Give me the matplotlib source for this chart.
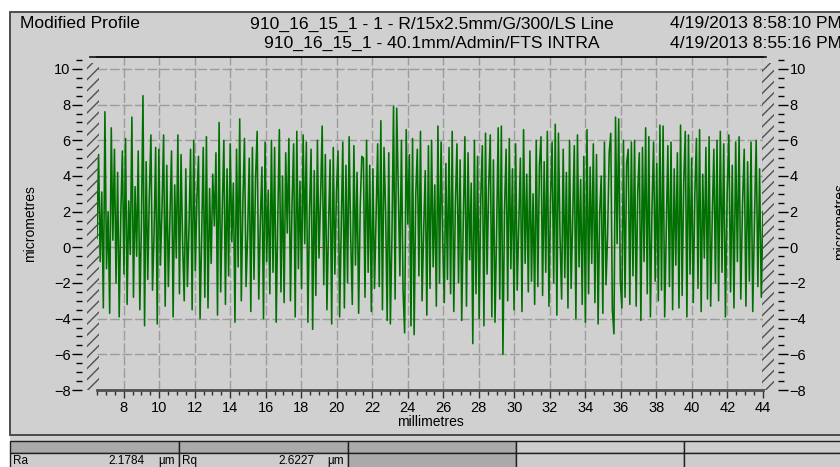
import numpy as np
import matplotlib
matplotlib.use("Agg")
import matplotlib.pyplot as plt
from matplotlib.patches import Rectangle
from matplotlib.lines import Line2D
from matplotlib.ticker import MultipleLocator

plt.rcParams['font.family'] = ['Liberation Sans', 'DejaVu Sans']
plt.rcParams['hatch.linewidth'] = 1.0

# profile heights (micrometres) in 5 mm pieces
seg_edges = [6.5, 11.5, 16.5, 21.5, 26.5, 31.5, 36.5, 41.5, 44.0]

seg_a = [0.5, 5.2, -0.8, 3.1, -3.4, 7.6, -1.2, 2.0, -3.7, 6.7, 0.4, 5.5, -2.0, 4.2,
         -3.9, 1.8, 5.4, -1.5, 6.1, -3.2, 2.6, -0.4, 7.3, -2.8, 3.4, -0.5, 5.4, -3.5,
         1.2, 8.5, -4.4, 4.8, -1.8, 2.9, 6.3, -2.4, 0.8, 5.6, -4.3, 5.5, -1.0, 2.2,
         6.3, -3.3, 4.6, -2.2, 1.5, 5.4, -3.9, 3.5, -0.6, 6.3, -2.6, 5.2, 0.2, -3.0]
seg_b = [4.4, -2.2, 1.0, 5.5, -3.5, 6.0, -1.3, 2.7, 5.1, -4.0, 0.6, 5.6, -2.8, 6.2,
         -3.4, 3.3, -0.9, 4.1, 1.2, 5.3, -3.8, 7.0, -2.5, 2.1, 6.0, -3.2, 4.4, -1.6,
         5.8, 0.3, 3.6, -4.2, 5.5, -1.1, 7.2, -3.0, 2.5, 6.1, -2.2, 0.7, 5.0, -3.6,
         5.6, -1.8, 3.9, 6.5, -2.9, 1.4, 4.5, -4.0, 5.9, -0.8, 3.2, -2.6, 6.0, -1.4]
seg_c = [5.6, -4.2, 1.6, 6.6, -2.5, 4.0, -3.1, 5.3, 0.8, 6.1, -3.0, 2.4, 5.8, -3.9,
         6.5, -1.2, 3.7, -2.3, 6.3, 0.2, 5.9, -4.2, 1.9, 5.5, -4.6, 4.3, -2.7, 6.0,
         -0.6, 2.8, 6.8, -2.1, 5.2, -3.5, 1.1, 4.9, -4.3, 5.6, -1.5, 3.1, 5.4, -3.9,
         0.9, 5.9, -3.4, 4.6, -2.0, 6.2, 0.5, -3.2, 5.7, -1.0, 4.2, -3.7, 2.3, 5.1]
seg_d = [5.0, -2.8, 6.0, -1.4, 4.6, -3.6, 4.4, -2.3, 1.8, 5.8, -2.2, 7.1, -3.5, 5.6,
         2.0, -4.1, 5.3, -4.3, 0.6, 7.9, -2.9, 7.8, 3.3, -1.6, 6.0, -2.4, -4.8, 6.6,
         1.3, 5.2, -4.4, 6.1, -4.9, 2.9, 5.5, -1.6, 6.5, -3.0, 0.9, 4.3, -3.8, 5.7,
         -2.3, 6.0, -1.1, 3.5, -3.3, 6.8, -2.0, 5.9, 0.4, -3.1, 4.7, -1.8, 5.6, -2.6]
seg_e = [6.5, -3.6, 2.4, 5.8, -2.0, 4.9, -4.1, 1.5, 6.2, -3.3, 5.3, -0.7, 3.6, -5.4,
         6.0, -2.6, 5.1, -4.0, 2.7, 5.7, -4.4, 6.4, -1.5, 3.4, 6.3, -3.9, 4.9, -4.2,
         0.8, 6.7, -2.9, 6.8, -6.0, 2.1, 5.5, -3.0, 6.1, -1.2, 4.4, -3.5, 5.8, -2.4,
         1.2, 5.0, -3.6, 6.6, -0.9, 4.1, -2.5, 5.4, -1.9, 3.0, -3.2, 6.0, -2.2, 4.6]
seg_f = [6.2, -2.7, 4.8, -1.4, 6.5, -3.3, 2.6, 5.9, -2.0, 6.9, -3.8, 6.4, 0.6, -2.9,
         5.5, -1.7, 4.2, -3.4, 6.0, -2.3, 1.6, 5.7, -4.0, 6.3, -1.1, 3.8, -3.2, 5.1,
         -4.2, 6.6, -2.6, 4.5, -0.9, 5.8, -3.1, 5.2, -4.3, 1.9, 4.0, -3.7, 5.9, -2.1,
         0.7, 5.3, 6.4, -3.5, -4.85, 7.3, 0.2, 7.2, -1.8, -3.4, 6.0, -2.8, 4.7, 5.5]
seg_g = [-3.2, 5.9, -1.6, 6.0, -3.3, 3.1, 5.3, -4.1, 5.6, -0.8, 6.7, -2.6, 6.2, -3.9,
         2.2, 5.9, -1.9, 4.7, -3.0, 6.85, -2.4, 6.8, -3.9, 1.0, 5.7, -2.2, 5.9, -3.5,
         4.4, -1.0, 5.3, -3.4, 6.85, -2.7, 3.6, 6.5, -3.9, 6.3, -1.5, 5.0, -3.1, 2.9,
         6.1, -2.3, 6.6, -3.6, 4.1, -0.6, 5.6, -2.9, 6.2, -3.3, 1.7, 5.5, -2.0, 6.0]
seg_h = [-3.0, 6.5, -1.4, 5.8, -3.9, 3.0, 6.3, -2.5, 4.6, -3.4, 5.9, -0.8, 6.2, -2.9,
         2.4, 5.5, -3.3, 4.8, -1.9, 5.9, -3.6, 1.5, 6.0, -2.2, 4.4, -2.8, 2.0]

segments = [seg_a, seg_b, seg_c, seg_d, seg_e, seg_f, seg_g, seg_h]

title_left = "Modified Profile"
title_lines = ["910_16_15_1 - 1 - R/15x2.5mm/G/300/LS Line",
               "910_16_15_1 - 40.1mm/Admin/FTS INTRA"]
date_lines = ["4/19/2013 8:58:10 PM", "4/19/2013 8:55:16 PM"]
params = [("Ra", "2.1784", "\u00b5m"), ("Rq", "2.6227", "\u00b5m")]

W, H = 840, 467
BG = '#d0d0d0'


def fx(x):
    return x / W


def fy(y):
    return 1 - y / H


xs, ys = [], []
for i, seg in enumerate(segments):
    last = i == len(segments) - 1
    xs.append(np.linspace(seg_edges[i], seg_edges[i + 1], len(seg), endpoint=last))
    ys.append(np.array(seg))
x = np.concatenate(xs)
y = np.concatenate(ys)

fig = plt.figure(figsize=(8.4, 4.67), dpi=100, facecolor='white')

# grey area under the panel, then the panel itself
fig.add_artist(Rectangle((fx(10), 0), fx(835), fy(430), transform=fig.transFigure,
                         facecolor=BG, edgecolor='none', zorder=-6))
fig.add_artist(Rectangle((fx(10), fy(435)), fx(835), 423 / H, transform=fig.transFigure,
                         facecolor=BG, edgecolor='#404040', lw=1.3, zorder=-5))

ax = fig.add_axes([fx(97), fy(390), fx(763 - 97), (390 - 57) / H])
ax.set_facecolor(BG)
ax.axhline(0, color='#b03020', lw=0.8, zorder=1)
ax.plot(x, y, color='#007000', lw=1.15, zorder=2)

ax.set_xlim(6.5, 44)
ax.set_ylim(-8, 10.67)
ax.xaxis.set_minor_locator(MultipleLocator(0.5))
ax.yaxis.set_minor_locator(MultipleLocator(0.5))
ax.set_yticks(np.arange(-8, 11, 2))
ax.set_xticks(np.arange(8, 45, 2))
ax.grid(True, which='major', color='#9c9c9c', lw=1.0, linestyle=(0, (7, 2)))

for side in ['left', 'right']:
    ax.spines[side].set_position(('outward', 11))
    ax.spines[side].set_color('none')
ax.spines['top'].set_color('#111111')
ax.spines['top'].set_linewidth(1.2)
ax.spines['bottom'].set_color('#505050')
ax.spines['bottom'].set_linewidth(2.0)

ax.tick_params(axis='y', which='both', left=True, right=True, labelleft=True,
               labelright=True, direction='out', colors='black', labelsize=10.5, pad=1)
ax.tick_params(axis='y', which='major', length=7, width=1)
ax.tick_params(axis='y', which='minor', length=4, width=1)
ax.tick_params(axis='x', which='major', length=6, width=1, color='#303030',
               labelsize=10.5, pad=2)
ax.tick_params(axis='x', which='minor', length=3.5, width=1, color='#303030')
ax.set_xlabel("millimetres", fontsize=10, labelpad=0)
ax.set_ylabel("micrometres", fontsize=10, labelpad=12)

# hatched edge strips
for x0, x1 in [(87, 99), (762, 774)]:
    fig.add_artist(Rectangle((fx(x0), fy(390)), fx(x1 - x0), (390 - 63) / H,
                             transform=fig.transFigure, fill=False, hatch='///',
                             edgecolor='#505050', lw=0))

fig.add_artist(Line2D([fx(90), fx(766)], [fy(57), fy(57)], color='#111111', lw=1.2,
                      transform=fig.transFigure))

# header texts
fs = 12.6
fig.text(fx(20), fy(24), title_left, fontsize=fs, va='center', ha='left')
fig.text(fx(432), fy(24), title_lines[0], fontsize=fs, va='center', ha='center')
fig.text(fx(432), fy(43), title_lines[1], fontsize=fs, va='center', ha='center')
fig.text(fx(670), fy(24), date_lines[0], fontsize=fs, va='center', ha='left')
fig.text(fx(670), fy(43), date_lines[1], fontsize=fs, va='center', ha='left')
fig.text(fx(833), fy(222), "micrometres", fontsize=10, rotation=90,
         va='center', ha='left')

# parameter table
cells = [10, 179, 348, 516, 684, 845]
for i in range(5):
    for r, (top, bot) in enumerate([(441, 453), (453, 470)]):
        dark = (r == 0 and i < 3) or (r == 1 and i == 2)
        fig.add_artist(Rectangle((fx(cells[i]), fy(bot)), fx(cells[i + 1] - cells[i]),
                                 (bot - top) / H, transform=fig.transFigure,
                                 facecolor='#aaaaaa' if dark else '#cdcdcd',
                                 edgecolor='#202020', lw=1.0))
for i, (name, val, unit) in enumerate(params):
    c = cells[i]
    fig.text(fx(c + 3), fy(461), name, fontsize=8.5, va='center', ha='left')
    fig.text(fx(c + 135), fy(461), val, fontsize=8.5, va='center', ha='right')
    fig.text(fx(c + 148), fy(461), unit, fontsize=8.5, va='center', ha='left')

fig.savefig("out.png", dpi=100, facecolor='white')
